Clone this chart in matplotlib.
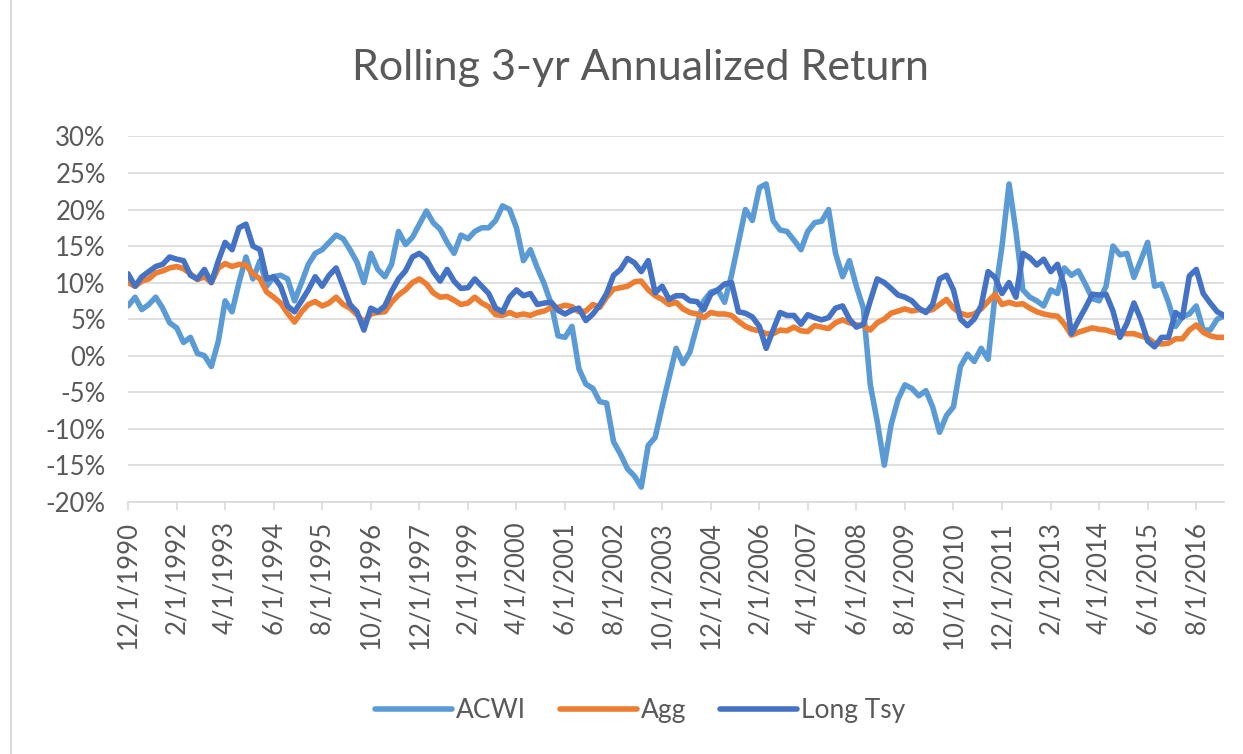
# Rolling 3-yr annualized return, Excel-style line chart
import pandas as pd
import matplotlib.pyplot as plt
from matplotlib.ticker import FuncFormatter
from matplotlib.lines import Line2D

# bi-monthly observations, 12/1990 onwards (values in %)
dates = pd.date_range("1990-12-01", periods=159, freq="2MS")

acwi = [
    6.8, 8.0, 6.3, 7.0, 8.0, 6.5, 4.5, 3.8, 1.8, 2.5, 0.3, 0.0, -1.5, 2.0, 7.5, 6.0,
    10.0, 13.5, 10.5, 13.0, 9.5, 10.8, 11.0, 10.5, 7.5, 10.0, 12.5, 14.0, 14.5, 15.5, 16.5, 16.0,
    14.5, 12.8, 10.0, 14.0, 11.8, 10.8, 12.5, 17.0, 15.2, 16.2, 18.0, 19.8, 18.2, 17.3, 15.5, 14.0,
    16.5, 16.0, 17.0, 17.5, 17.5, 18.5, 20.5, 20.0, 17.5, 13.0, 14.5, 12.0, 9.8, 7.0, 2.7,
    2.5, 4.0, -1.8, -3.9, -4.5, -6.3, -6.5, -11.8, -13.5, -15.5, -16.5, -18.0, -12.3, -11.2, -7.0, -3.0,
    1.0, -1.1, 0.5, 4.0, 7.5, 8.7, 9.0, 7.3, 11.0, 15.5, 20.0, 18.5, 23.0, 23.5, 18.5, 17.2,
    17.0, 15.8, 14.5, 17.0, 18.2, 18.4, 20.0, 14.0, 10.8, 13.0, 9.5, 6.5, -4.0, -9.0, -15.0, -9.5,
    -6.0, -4.0, -4.5, -5.5, -4.8, -7.0, -10.5, -8.2, -7.0, -1.5, 0.2, -0.8, 1.0, -0.5, 8.3, 15.0,
    23.5, 17.0, 9.0, 8.0, 7.5, 6.8, 9.0, 8.5, 12.0, 11.0, 11.6, 9.8, 7.8, 7.5, 9.5, 15.0,
    13.8, 14.0, 10.7, 13.0, 15.5, 9.5, 9.8, 7.3, 4.0, 5.3, 5.7, 6.8, 3.5, 3.5, 5.0, 5.4,
]

agg = [
    10.0, 9.5, 10.2, 10.5, 11.3, 11.6, 12.0, 12.2, 11.9, 11.2, 10.4, 10.8, 10.0, 12.0, 12.6, 12.2,
    12.5, 12.4, 11.2, 10.5, 8.7, 8.0, 7.2, 5.8, 4.6, 6.0, 7.0, 7.4, 6.8, 7.2, 8.0, 7.0,
    6.5, 5.6, 4.6, 5.7, 5.9, 6.0, 7.3, 8.3, 9.0, 10.0, 10.5, 9.8, 8.6, 8.0, 8.1, 7.6,
    7.0, 7.2, 8.0, 7.2, 6.7, 5.6, 5.5, 5.9, 5.5, 5.7, 5.5, 5.9, 6.1, 6.6, 6.6,
    6.9, 6.7, 6.0, 6.1, 7.0, 6.6, 8.0, 9.1, 9.3, 9.5, 10.1, 10.2, 9.0, 8.2, 7.7, 7.0,
    7.3, 6.4, 5.9, 5.7, 5.2, 5.9, 5.7, 5.7, 5.5, 4.7, 4.0, 3.6, 3.4, 3.0, 3.0, 3.5,
    3.4, 3.9, 3.4, 3.3, 4.1, 3.9, 3.7, 4.5, 4.9, 4.5, 4.2, 4.1, 3.5, 4.5, 5.0, 5.8,
    6.1, 6.4, 6.1, 6.3, 6.1, 6.3, 7.0, 7.7, 6.5, 5.8, 5.5, 5.7, 6.4, 7.4, 8.4, 7.0,
    7.3, 7.0, 7.1, 6.5, 6.0, 5.7, 5.5, 5.4, 4.3, 2.8, 3.2, 3.5, 3.8, 3.6, 3.5, 3.2,
    3.0, 3.0, 3.0, 2.7, 2.4, 1.7, 1.6, 1.7, 2.3, 2.3, 3.5, 4.2, 3.2, 2.7, 2.5, 2.5,
]

long_tsy = [
    11.2, 9.5, 10.8, 11.5, 12.2, 12.5, 13.5, 13.2, 13.0, 11.0, 10.5, 11.8, 10.0, 13.0, 15.5, 14.5,
    17.5, 18.0, 15.0, 14.5, 10.5, 10.8, 9.5, 6.8, 6.0, 7.5, 9.0, 10.8, 9.5, 11.0, 12.0, 9.5,
    7.0, 6.0, 3.5, 6.5, 6.0, 6.8, 8.8, 10.5, 11.6, 13.5, 14.0, 13.2, 11.5, 10.2, 11.8, 10.2,
    9.2, 9.3, 10.5, 9.5, 8.5, 6.5, 6.0, 8.0, 9.0, 8.2, 8.5, 7.0, 7.2, 7.3, 6.2,
    5.7, 6.2, 6.5, 4.8, 5.7, 6.9, 8.5, 11.0, 11.8, 13.3, 12.7, 11.5, 13.0, 8.6, 9.5, 7.7,
    8.2, 8.2, 7.5, 7.4, 6.3, 8.4, 9.0, 9.8, 10.0, 6.0, 5.8, 5.3, 4.0, 1.0, 3.5, 5.9,
    5.5, 5.5, 4.3, 5.6, 5.2, 4.9, 5.2, 6.5, 6.8, 5.0, 3.9, 4.3, 7.5, 10.5, 10.0, 9.2,
    8.3, 8.0, 7.5, 6.5, 5.9, 7.0, 10.5, 11.0, 9.0, 5.0, 4.1, 5.0, 6.8, 11.5, 10.7, 8.5,
    10.0, 8.0, 14.0, 13.4, 12.4, 13.2, 11.5, 12.5, 9.5, 3.0, 4.8, 6.5, 8.4, 8.3, 8.4, 6.1,
    2.5, 4.4, 7.2, 5.0, 2.0, 1.2, 2.5, 2.5, 5.9, 5.2, 10.9, 11.8, 8.5, 7.2, 6.0, 5.5,
]

series_names = ["ACWI", "Agg", "Long Tsy"]
colors = ["#5B9BD5", "#ED7D31", "#4472C4"]
text_col = "#595959"
grid_col = "#D9D9D9"

plt.rcParams["font.family"] = ["Lato", "DejaVu Sans"]

fig = plt.figure(figsize=(12.43, 7.54), dpi=100)
ax = fig.add_axes([0.103, 0.3346, 0.8817, 0.4844])

for vals, name, c in zip([acwi, agg, long_tsy], series_names, colors):
    ax.plot(dates, vals, color=c, lw=4, label=name, solid_capstyle="round")

ax.set_xlim(dates[0], dates[-1])
ax.set_ylim(-20, 30)
ax.set_yticks(range(-20, 31, 5))
ax.yaxis.set_major_formatter(FuncFormatter(lambda v, p: f"{v:.0f}%"))
ax.grid(axis="y", color=grid_col, lw=1.2)
ax.set_axisbelow(True)

tick_dates = dates[::7]
ax.set_xticks(tick_dates)
ax.set_xticklabels([f"{d.month}/{d.day}/{d.year}" for d in tick_dates], rotation=90)

for s in ["left", "right", "top"]:
    ax.spines[s].set_visible(False)
ax.spines["bottom"].set_color(grid_col)
ax.spines["bottom"].set_linewidth(1.2)
ax.tick_params(axis="y", length=0, labelsize=18.5, labelcolor=text_col, pad=16)
ax.tick_params(axis="x", length=6, width=1.2, color=grid_col, labelsize=18.5,
               labelcolor=text_col, pad=8)

fig.text(0.515, 0.91, "Rolling 3-yr Annualized Return", ha="center", va="center",
         fontsize=31, color=text_col)

handles = [Line2D([0], [0], color=c, lw=4, solid_capstyle="round") for c in colors]
fig.legend(handles, series_names, loc="center", bbox_to_anchor=(0.515, 0.058),
           ncol=3, frameon=False, fontsize=19, handlelength=2.9, handletextpad=0.15,
           columnspacing=1.3, labelcolor=text_col)

# chart area border on the left
fig.add_artist(Line2D([0.009, 0.009], [0, 1], color=grid_col, lw=1.5))

fig.savefig("out.png", dpi=100)
